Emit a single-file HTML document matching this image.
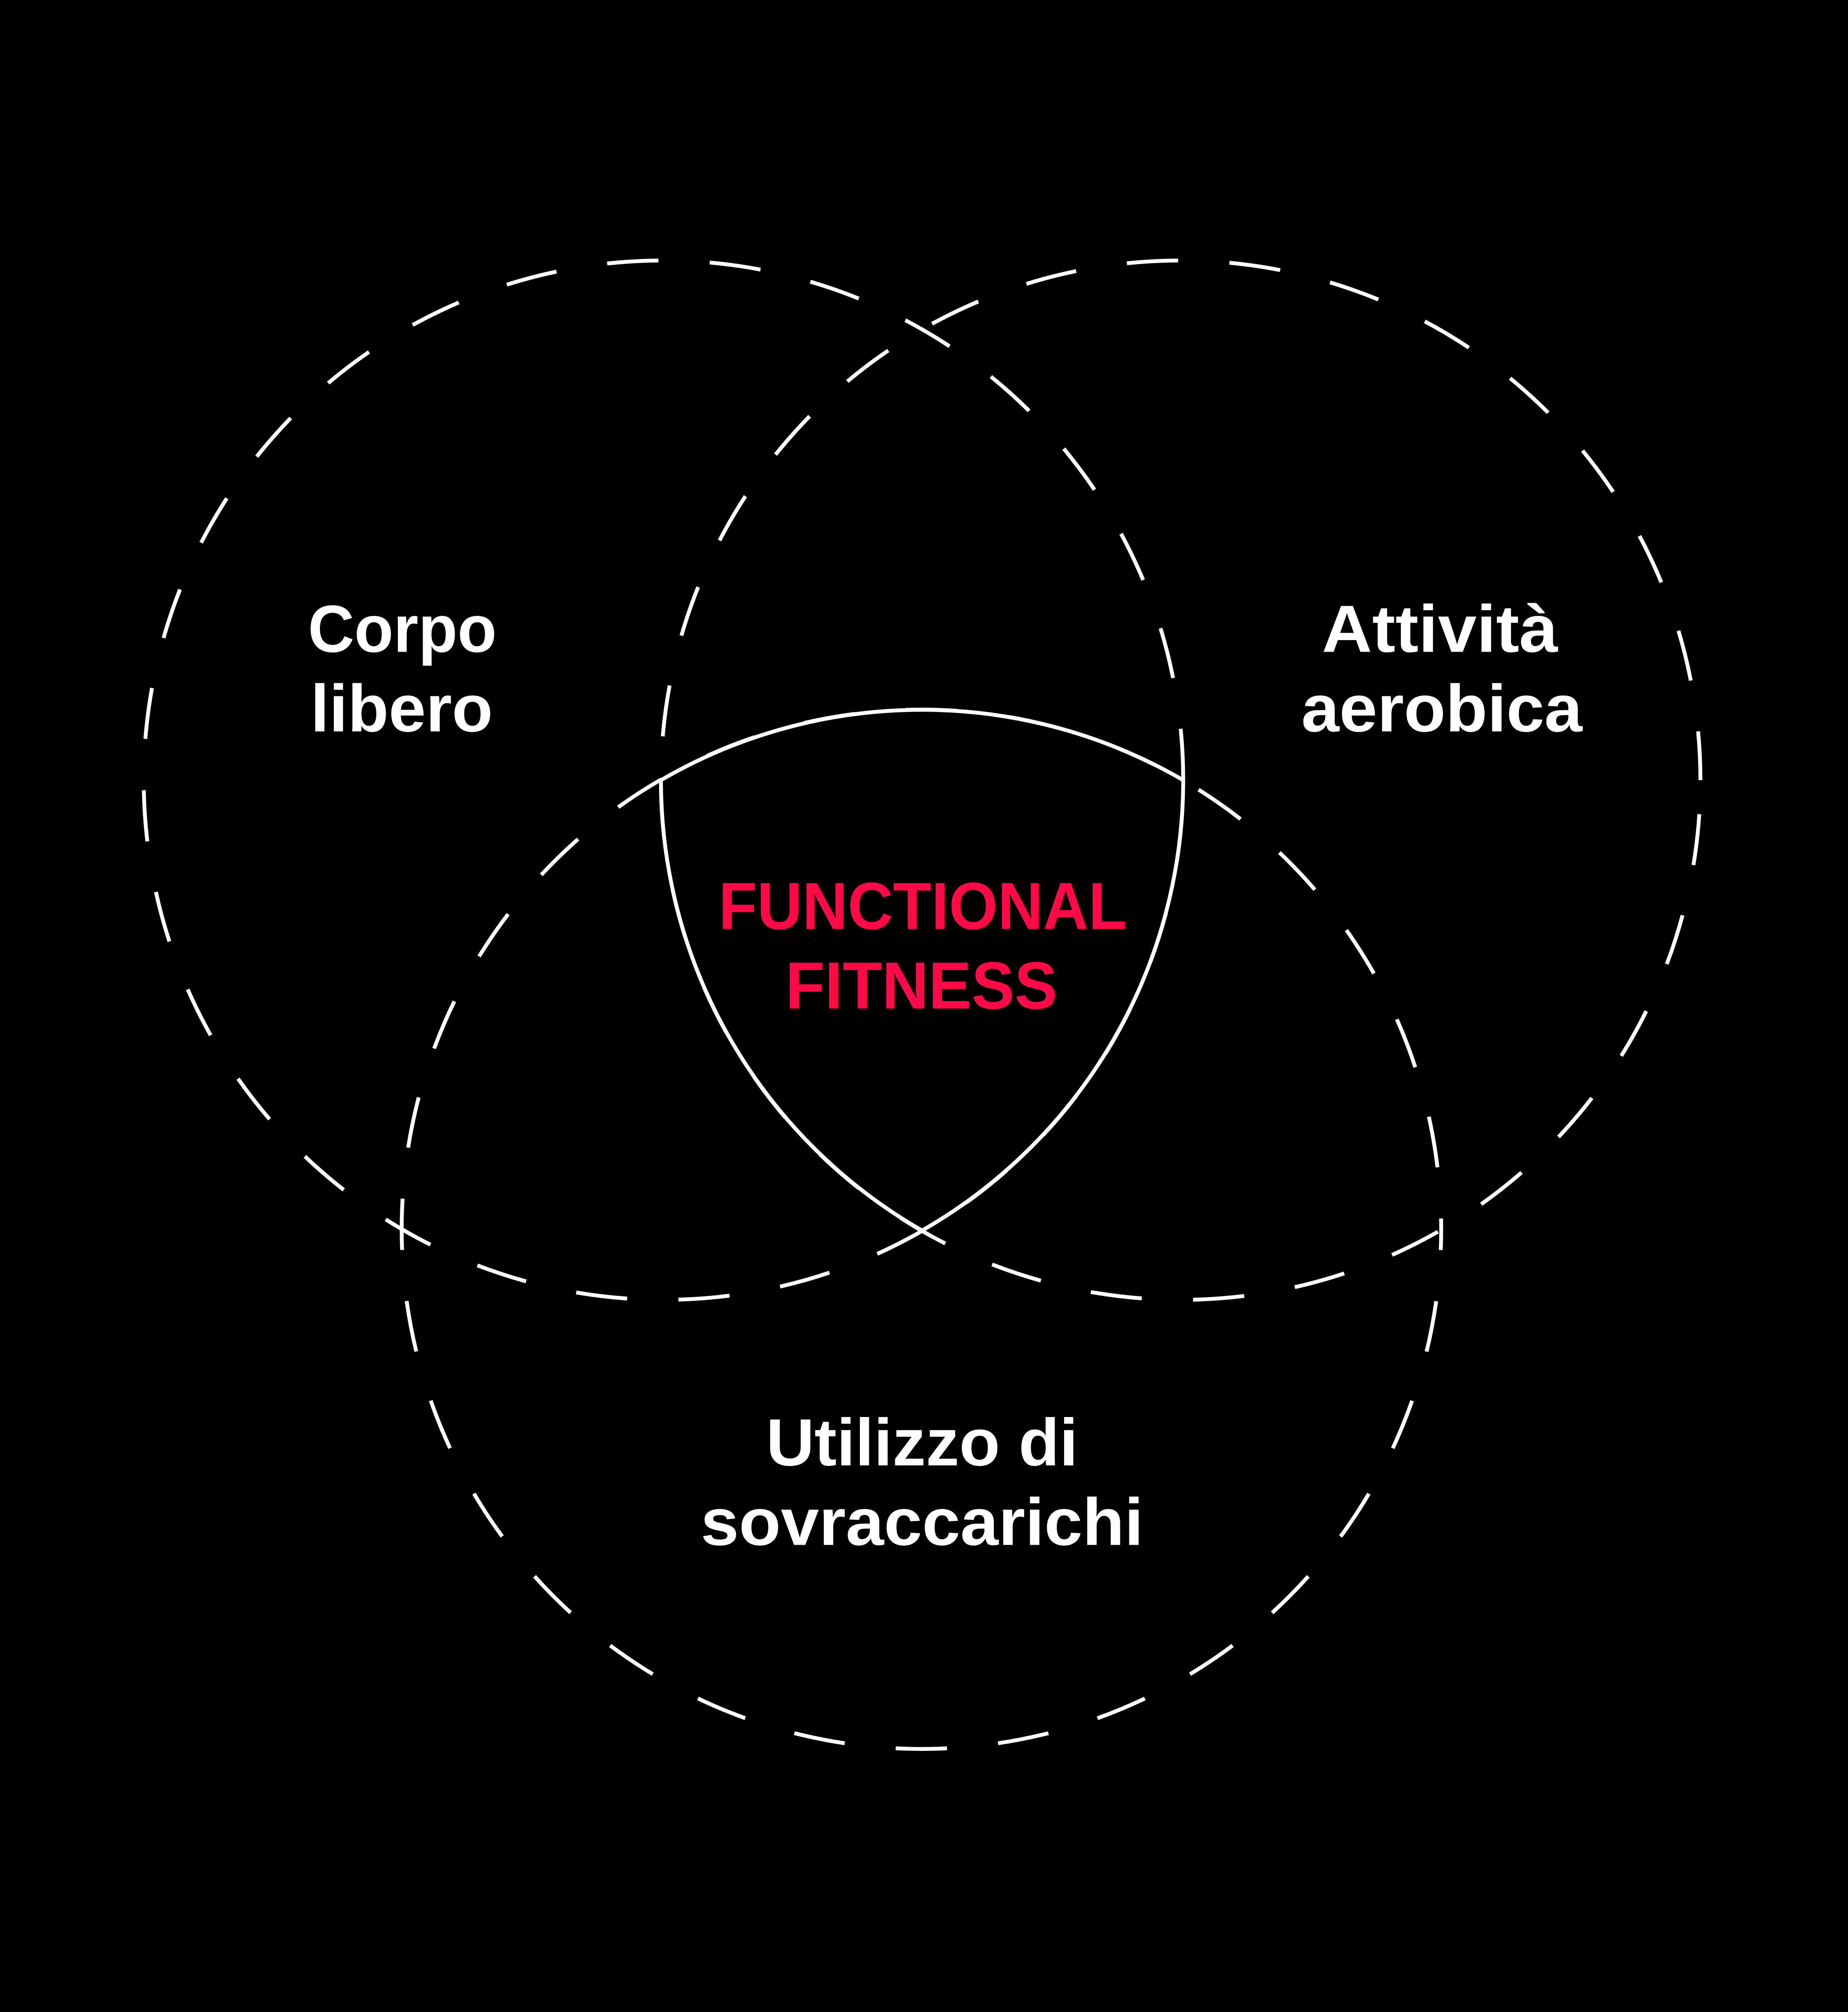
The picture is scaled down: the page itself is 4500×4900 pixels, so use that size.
<!DOCTYPE html>
<html>
<head>
<meta charset="utf-8">
<style>
html,body{margin:0;padding:0;background:#000;}
svg{display:block;}
text{font-family:"Liberation Sans","DejaVu Sans",sans-serif;font-weight:bold;}
</style>
</head>
<body>
<svg width="4500" height="4900" viewBox="0 0 1440 1568" xmlns="http://www.w3.org/2000/svg">
<rect width="1440" height="1568" fill="#000"/>
<g fill="none" stroke="#fff" stroke-width="3" stroke-dasharray="40 40">
<circle cx="517" cy="608" r="405" stroke-dashoffset="55.5"/>
<circle cx="920" cy="608" r="405" stroke-dashoffset="53.5"/>
<circle cx="718" cy="958" r="405" stroke-dashoffset="23.8"/>
</g>
<g fill="none" stroke="#fff" stroke-width="3">
<path d="M515,608 A405,405 0 0 1 922,608"/>
<path d="M515,608 A405,405 0 0 0 718.5,959"/>
<path d="M922,608 A405,405 0 0 1 718.5,959"/>
</g>
<g fill="#fff" font-size="52">
<text x="240" y="508" textLength="147" lengthAdjust="spacingAndGlyphs">Corpo</text>
<text x="242" y="570" textLength="142" lengthAdjust="spacingAndGlyphs">libero</text>
<text x="1030" y="508" textLength="184" lengthAdjust="spacingAndGlyphs">Attività</text>
<text x="1014" y="570" textLength="219" lengthAdjust="spacingAndGlyphs">aerobica</text>
<text x="597" y="1142" textLength="243" lengthAdjust="spacingAndGlyphs">Utilizzo di</text>
<text x="546" y="1204" textLength="345" lengthAdjust="spacingAndGlyphs">sovraccarichi</text>
</g>
<g fill="#ff0a47" font-size="52">
<text x="560" y="724" textLength="318" lengthAdjust="spacingAndGlyphs">FUNCTIONAL</text>
<text x="612" y="786" textLength="212" lengthAdjust="spacingAndGlyphs">FITNESS</text>
</g>
</svg>
</body>
</html>
